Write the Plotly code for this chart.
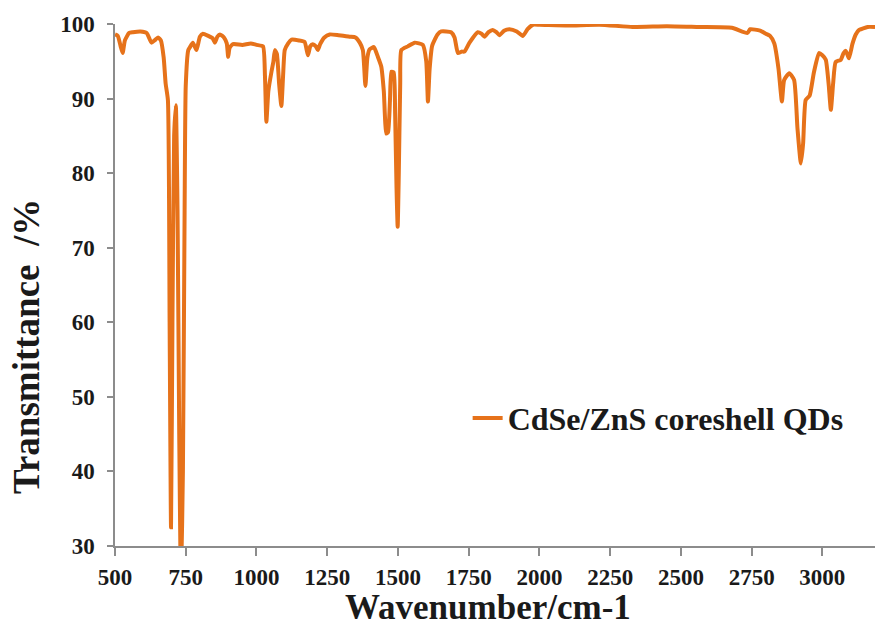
import plotly.graph_objects as go

# FTIR spectrum of CdSe/ZnS core-shell quantum dots
wavenumber = [
    500, 510, 520, 527, 535, 550, 563, 590, 612, 629, 640, 652, 662, 672, 679,
    687, 693, 698, 703, 709, 715, 721, 727, 733, 740, 746, 750, 759, 765, 775,
    788, 800, 811, 830, 845, 853, 862, 871, 885, 895, 900, 905, 917, 950, 980,
    1000, 1023, 1030, 1035, 1042, 1053, 1060, 1065, 1072, 1080, 1088, 1094, 1100,
    1112, 1124, 1150, 1170, 1182, 1190, 1199, 1210, 1217, 1225, 1240, 1259, 1290,
    1329, 1350, 1365, 1376, 1385, 1392, 1400, 1415, 1429, 1441, 1450, 1459, 1465,
    1472, 1477, 1485, 1490, 1495, 1499, 1503, 1508, 1512, 1535, 1559, 1588, 1600,
    1606, 1612, 1621, 1640, 1653, 1688, 1700, 1712, 1725, 1735, 1753, 1782, 1795,
    1806, 1820, 1835, 1848, 1859, 1875, 1894, 1920, 1941, 1958, 1977, 2000, 2100,
    2212, 2329, 2450, 2565, 2680, 2735, 2745, 2780, 2800, 2815, 2830, 2845, 2857,
    2865, 2883, 2900, 2912, 2924, 2932, 2941, 2955, 2970, 2988, 3000, 3012, 3022,
    3030, 3038, 3047, 3065, 3075, 3083, 3094, 3106, 3118, 3130, 3160, 3186,
]
transmittance = [
    98.6, 98.4, 97.0, 96.1, 97.8, 98.8, 98.9, 99.0, 98.8, 97.5, 97.8, 98.2, 97.8, 95.5, 92.0,
    89.8, 60.0, 32.5, 60.0, 85.0, 89.1, 75.0, 45.0, 25.0, 40.0, 75.0, 91.7, 96.5, 96.9, 97.5,
    96.5, 98.3, 98.7, 98.4, 98.1, 97.5, 98.3, 98.6, 98.2, 97.4, 95.6, 96.8, 97.3, 97.2, 97.4,
    97.2, 97.0, 93.0, 86.9, 91.0, 93.6, 95.0, 96.5, 96.0, 92.0, 89.0, 93.0, 96.5,
    97.4, 97.9, 97.8, 97.6, 95.8, 97.0, 97.3, 97.0, 96.5, 97.3, 98.2, 98.6, 98.5,
    98.3, 98.2, 97.5, 96.5, 91.7, 95.5, 96.6, 96.9, 95.6, 94.3, 91.0, 85.3, 85.5,
    90.0, 93.6, 93.5, 88.0, 78.0, 72.8, 80.0, 92.0, 96.5, 97.0, 97.5, 97.2, 95.0,
    89.6, 94.0, 97.1, 98.6, 99.0, 98.9, 98.2, 96.1, 96.3, 96.3, 97.5, 98.9, 98.7,
    98.3, 98.9, 99.2, 98.9, 98.5, 99.1, 99.3, 99.0, 98.4, 99.3, 99.9, 99.9, 99.8,
    99.9, 99.6, 99.7, 99.6, 99.5, 98.8, 99.3, 99.1, 98.7, 98.4, 97.4, 94.0, 89.6,
    92.5, 93.4, 92.5, 86.0, 81.3, 84.0, 89.8, 90.4, 93.5, 96.1, 95.8, 95.2, 92.0,
    88.5, 92.0, 94.9, 95.2, 96.1, 96.4, 95.4, 97.3, 98.6, 99.2, 99.6, 99.6,
]

x_ticks = [500, 750, 1000, 1250, 1500, 1750, 2000, 2250, 2500, 2750, 3000]
y_ticks = [30, 40, 50, 60, 70, 80, 90, 100]

SERIF = "Liberation Serif"
LINE_COLOR = "#E6721A"
AXIS_COLOR = "#8C8C8C"
TEXT_COLOR = "#1a1a1a"

fig = go.Figure()
fig.add_trace(go.Scatter(
    x=wavenumber, y=transmittance, mode="lines",
    name="<b>CdSe/ZnS coreshell QDs</b>",
    line=dict(color=LINE_COLOR, width=4, shape="spline", smoothing=0.5),
))

fig.update_layout(
    width=876, height=629,
    margin=dict(l=115, r=1, t=24, b=83),
    paper_bgcolor="white", plot_bgcolor="white",
    font=dict(family=SERIF, color=TEXT_COLOR),
    showlegend=True,
    legend=dict(
        x=0.464, y=0.245, xanchor="left", yanchor="middle",
        bgcolor="rgba(0,0,0,0)",
        font=dict(family=SERIF, size=32, color=TEXT_COLOR),
        itemwidth=30,
    ),
    xaxis=dict(
        range=[500, 3186], tickvals=x_ticks,
        showgrid=False, zeroline=False,
        showline=True, linecolor=AXIS_COLOR, linewidth=1.5,
        ticks="outside", ticklen=8, tickcolor=AXIS_COLOR, tickwidth=1.5,
        tickfont=dict(family=SERIF, size=23, color=TEXT_COLOR, weight="bold"),
        ticklabelstandoff=2,
    ),
    yaxis=dict(
        range=[30, 100], tickvals=y_ticks,
        showgrid=False, zeroline=False,
        showline=True, linecolor=AXIS_COLOR, linewidth=1.5,
        ticks="outside", ticklen=6, tickcolor=AXIS_COLOR, tickwidth=1.5,
        tickfont=dict(family=SERIF, size=23, color=TEXT_COLOR, weight="bold"),
        ticklabelstandoff=8,
    ),
    annotations=[
        dict(text="<b>Wavenumber/cm-1</b>", xref="paper", yref="paper",
             x=(488 - 115) / 760, y=-(607 - 546) / 522,
             xanchor="center", yanchor="middle", showarrow=False,
             font=dict(family=SERIF, size=35, color=TEXT_COLOR)),
        dict(text="<b>Transmittance  /%</b>", xref="paper", yref="paper",
             x=-(115 - 26) / 760, y=(546 - 347) / 522, textangle=-90,
             xanchor="center", yanchor="middle", showarrow=False,
             font=dict(family=SERIF, size=37, color=TEXT_COLOR)),
    ],
)

fig.write_html("out.html")
